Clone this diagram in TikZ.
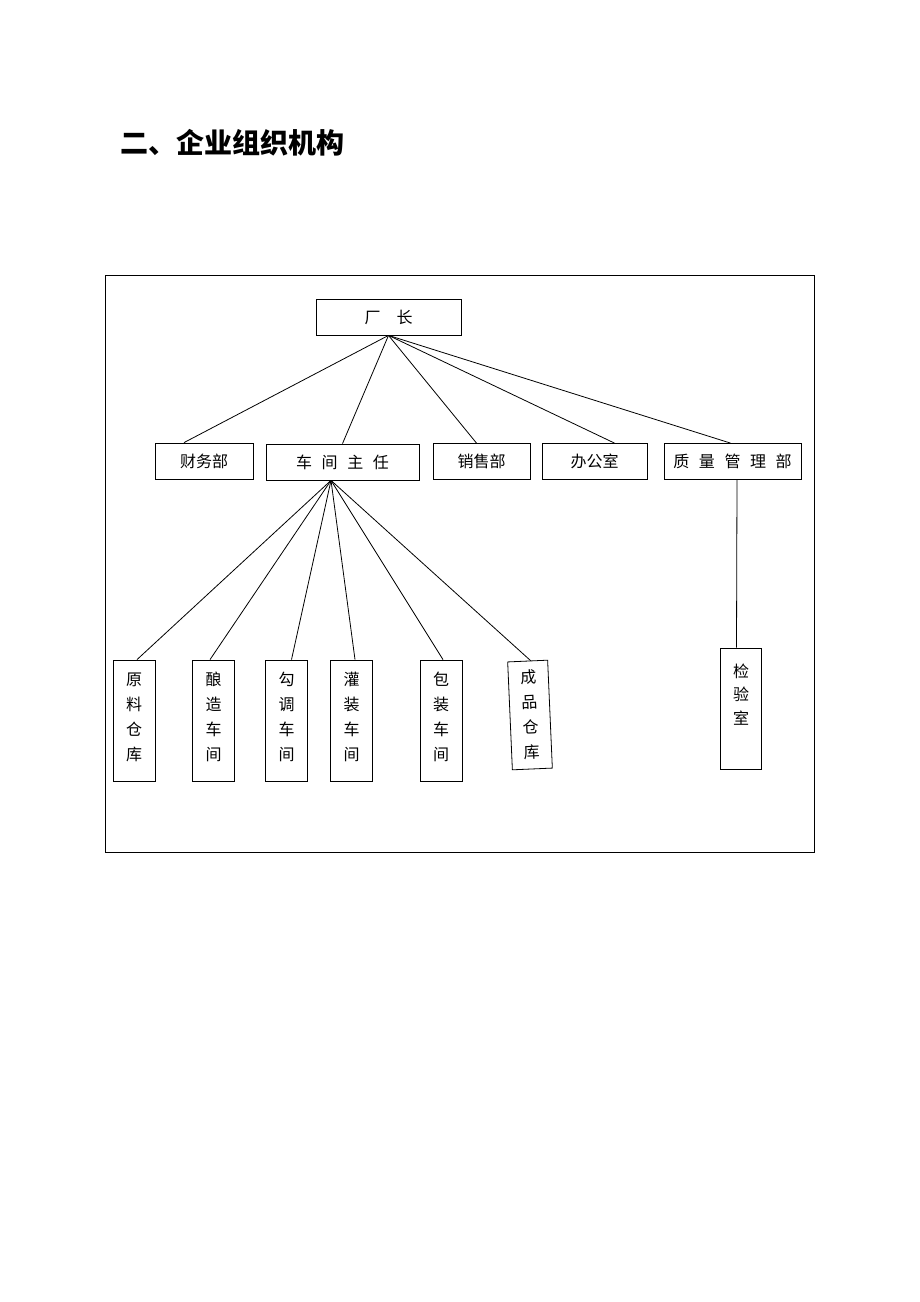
\documentclass[tikz,border=0pt]{standalone}
\usepackage{fontspec}
\setmainfont{Noto Sans CJK SC}
\usetikzlibrary{calc}
\newcommand{\lz}{\hspace{0.6em}}

\begin{document}
\begin{tikzpicture}[
		x=0.75pt, y=-0.75pt,	% Pixelraster des Vorbilds
		line width=0.6pt,		% Linienstaerke
		kasten/.style={draw, rectangle, inner sep=0pt, minimum height=27pt, font=\fontsize{12}{14}\selectfont},
		hochkasten/.style={draw, rectangle, inner sep=0pt, minimum width=31.5pt, minimum height=90.75pt, align=center, font=\fontsize{12}{18.75}\selectfont}
	]
	\useasboundingbox (0,0) rectangle (920,1302);

	% Ueberschrift
	\node[anchor=west, inner sep=0pt, font=\fontsize{21}{24}\selectfont\bfseries] (titel) at (120,143) {二、企业组织机构};

	% Rahmen
	\draw (105,275) rectangle (814,852);

	% Knoten
	\node[kasten, minimum width=108.75pt] (chang) at (388.5,317) {厂\hspace{1em}长};
	\node[kasten, minimum width=73.5pt] (caiwu) at (204,461) {财务部};
	\node[kasten, minimum width=114.75pt] (chejian) at (342.5,462) {车\lz 间\lz 主\lz 任};
	\node[kasten, minimum width=72.75pt] (xiaoshou) at (481.5,461.5) {销售部};
	\node[kasten, minimum width=78.75pt] (bangong) at (594.5,461.5) {办公室};
	\node[kasten, minimum width=102.75pt] (zhiliang) at (732.5,461.5) {质\lz 量\lz 管\lz 理\lz 部};

	\node[hochkasten] (yuanliao) at (134,720.5) {原\\料\\仓\\库\\[-12.75pt]\mbox{}};
	\node[hochkasten] (niangzao) at (213.5,720.5) {酿\\造\\车\\间\\[-12.75pt]\mbox{}};
	\node[hochkasten] (goutiao) at (286.5,720.5) {勾\\调\\车\\间\\[-12.75pt]\mbox{}};
	\node[hochkasten] (guanzhuang) at (351.5,720.5) {灌\\装\\车\\间\\[-12.75pt]\mbox{}};
	\node[hochkasten] (baozhuang) at (441,720.5) {包\\装\\车\\间\\[-12.75pt]\mbox{}};
	\node[hochkasten, minimum width=30pt, minimum height=81pt, rotate=2.5] (chengpin) at (530,715) {成\\品\\仓\\库};
	\node[hochkasten, minimum width=30.75pt, font=\fontsize{12}{17.6}\selectfont] (jianyan) at (741,708.5) {检\\验\\室\\[4pt]\mbox{}};

	% Verbindungen Ebene 1
	\draw (chang.south) -- ($(caiwu.north)+(-20,0)$);
	\draw (chang.south) -- (chejian.north);
	\draw (chang.south) -- ($(xiaoshou.north)+(-5,0)$);
	\draw (chang.south) -- ($(bangong.north)+(20,0)$);
	\draw (chang.south) -- ($(zhiliang.north)+(-2,0)$);

	% Verbindungen Ebene 2
	\coordinate (fuss) at ($(chejian.south)+(-11.5,0)$);
	\draw (fuss) -- ($(yuanliao.north)+(3,0)$);
	\draw (fuss) -- ($(niangzao.north)+(-3.5,0)$);
	\draw (fuss) -- ($(goutiao.north)+(5,0)$);
	\draw (fuss) -- ($(guanzhuang.north)+(3.5,0)$);
	\draw (fuss) -- ($(baozhuang.north)+(2,0)$);
	\draw (fuss) -- ($(chengpin.north)+(3,0)$);
	\draw ($(zhiliang.south)+(4.5,0)$) -- ($(jianyan.north)+(-4.5,0)$);

\end{tikzpicture}
\end{document}
